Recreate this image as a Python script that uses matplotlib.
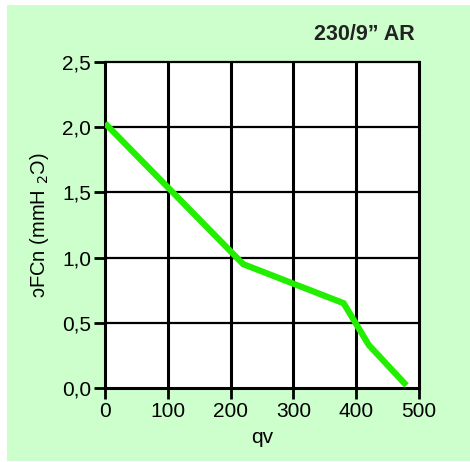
import matplotlib
matplotlib.use('Agg')
import matplotlib.pyplot as plt
from matplotlib.patches import Rectangle

# ── Data ──
qv = [0, 220, 380, 420, 480]
pressure = [2.03, 0.95, 0.65, 0.33, 0.02]
xticks = [0, 100, 200, 300, 400, 500]
yticks = [0.0, 0.5, 1.0, 1.5, 2.0, 2.5]
ytick_labels = ['0,0', '0,5', '1,0', '1,5', '2,0', '2,5']

plt.rcParams.update({
    'font.family': ['Liberation Sans', 'DejaVu Sans'],
    'font.size': 13,
})

fig = plt.figure(figsize=(4.70, 4.62), dpi=100, facecolor='white')
# light green panel behind everything
fig.patches.append(Rectangle((7 / 470, 1 / 462), 463 / 470, 456 / 462,
                             transform=fig.transFigure, facecolor='#CCFFCC',
                             edgecolor='none', zorder=-10))

ax = fig.add_axes([105 / 470, 1 - 388 / 462, 314 / 470, 326 / 462])
ax.set_zorder(5)
ax.set_facecolor('white')

ax.plot(qv, pressure, color='#22EE00', linewidth=4.5,
        solid_capstyle='butt', solid_joinstyle='miter', zorder=5)

ax.set_xlim(0, 500)
ax.set_ylim(0, 2.5)
ax.set_xticks(xticks)
ax.set_yticks(yticks)
ax.set_yticklabels(ytick_labels)

# black grid, vertical lines a bit heavier
for x in xticks[1:-1]:
    ax.axvline(x, color='black', linewidth=2.2, zorder=2)
for y in yticks[1:-1]:
    ax.axhline(y, color='black', linewidth=1.6, zorder=2)

for side in ['left', 'bottom', 'right']:
    ax.spines[side].set_linewidth(2.2)
ax.spines['top'].set_linewidth(1.6)
ax.tick_params(direction='out', length=8, width=2, pad=2, labelsize=15,
               colors='black')

ax.set_xlabel('qv', fontsize=15, labelpad=5)
ax.set_ylabel('ɔFCn (mmH $_2$Ɔ)', fontsize=14.5, labelpad=8)

fig.text(415 / 470, 1 - 40 / 462, '230/9” AR', ha='right', va='baseline',
         fontsize=15.5, fontweight='bold',
         family=['Liberation Sans Narrow', 'Liberation Sans'], color='#222222',
         zorder=10)

plt.savefig('out.png', dpi=100, facecolor='white')
